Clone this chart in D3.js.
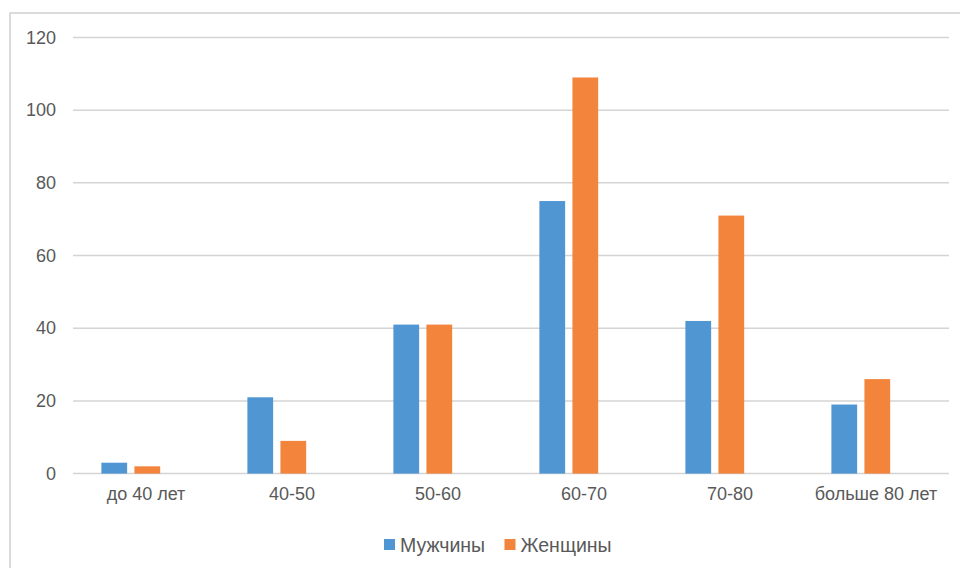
<!DOCTYPE html>
<html><head><meta charset="utf-8">
<script src="https://cdn.jsdelivr.net/npm/d3@7"></script>
<style>body{margin:0;background:#fff}svg{display:block}</style>
</head><body>
<svg id="c" width="960" height="568"></svg>
<script>
const categories = ["до 40 лет","40-50","50-60","60-70","70-80","больше 80 лет"];
const seriesNames = ["Мужчины","Женщины"];
const men   = [3,21,41,75,42,19];
const women = [2,9,41,109,71,26];
const yTicks = [0,20,40,60,80,100,120];
const colors = ["#5096D3","#F2843B"];

(function(){
const svg = d3.select("#c");
const font = "'Liberation Sans', Arial, sans-serif";
const txt = "#595959";

// outer border
svg.append("rect").attr("x",10).attr("y",13).attr("width",970).attr("height",600)
  .attr("fill","none").attr("stroke","#d0d0d0").attr("stroke-width",1.5);

const pLeft = 73, pRight = 949, pTop = 37.5, pBottom = 473.6;
const x = d3.scaleBand().domain(categories).range([pLeft,pRight]).paddingInner(0).paddingOuter(0);
// third slot is an empty series (as in the source)
const x1 = d3.scaleBand().domain(["s0","s1","s2"]).range([1.3,x.bandwidth()+1.3]).paddingInner(0.221).paddingOuter(0.82);
const y = d3.scaleLinear().domain([0,120]).range([pBottom,pTop]);

// gridlines
svg.append("g").selectAll("line").data(yTicks).join("line")
  .attr("x1",pLeft).attr("x2",pRight).attr("y1",d=>y(d)).attr("y2",d=>y(d))
  .attr("stroke","#d4d4d4").attr("stroke-width",1.5);

// y labels
const yAxis = d3.axisLeft(y).tickValues(yTicks).tickSize(0).tickPadding(17);
const ga = svg.append("g").attr("transform",`translate(${pLeft},0)`).call(yAxis);
ga.select(".domain").remove();
ga.selectAll("text").attr("font-family",font).attr("font-size",18).attr("fill",txt);

// bars
const data = [men, women];
data.forEach((vals,si)=>{
  svg.append("g").selectAll("rect").data(vals).join("rect")
    .attr("x",(d,i)=>x(categories[i])+x1("s"+si))
    .attr("width",x1.bandwidth())
    .attr("y",d=>y(d)).attr("height",d=>y(0)-y(d))
    .attr("fill",colors[si]);
});

// x labels
const xAxis = d3.axisBottom(x).tickSize(0).tickPadding(14);
const gx = svg.append("g").attr("transform",`translate(0,${pBottom})`).call(xAxis);
gx.select(".domain").remove();
gx.selectAll("text").attr("font-family",font).attr("font-size",18).attr("fill",txt);

// legend
const legX = [384, 504.5];
seriesNames.forEach((n,i)=>{
  svg.append("rect").attr("x",legX[i]).attr("y",539).attr("width",11).attr("height",11).attr("fill",colors[i]);
  svg.append("text").attr("x",legX[i]+16).attr("y",551.5).attr("font-family",font).attr("font-size",19.5)
    .attr("fill",txt).text(n);
});
})();
</script>
</body></html>
